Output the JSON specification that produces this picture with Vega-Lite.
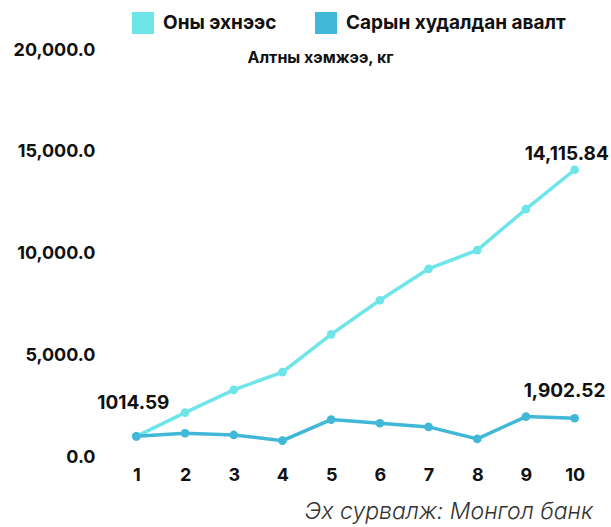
{
  "$schema": "https://vega.github.io/schema/vega-lite/v6.json",
  "autosize": {"type": "none"},
  "width": 487,
  "height": 407,
  "padding": {"left": 112, "top": 50, "right": 12, "bottom": 70},
  "background": "white",
  "config": {
    "view": {"stroke": null},
    "font": "Inter"
  },
  "title": {
    "text": "Эх сурвалж: Монгол банк",
    "orient": "bottom",
    "anchor": "end",
    "frame": "group",
    "fontSize": 23,
    "fontStyle": "italic",
    "fontWeight": 300,
    "color": "#333333",
    "offset": 17,
    "dx": -6
  },
  "data": {
    "values": [
      {"month": 1, "series": "Оны эхнээс", "value": 1014.59},
      {"month": 2, "series": "Оны эхнээс", "value": 2182},
      {"month": 3, "series": "Оны эхнээс", "value": 3300},
      {"month": 4, "series": "Оны эхнээс", "value": 4172},
      {"month": 5, "series": "Оны эхнээс", "value": 6025},
      {"month": 6, "series": "Оны эхнээс", "value": 7700},
      {"month": 7, "series": "Оны эхнээс", "value": 9246},
      {"month": 8, "series": "Оны эхнээс", "value": 10163},
      {"month": 9, "series": "Оны эхнээс", "value": 12182},
      {"month": 10, "series": "Оны эхнээс", "value": 14115.84},
      {"month": 1, "series": "Сарын худалдан авалт", "value": 1014.59},
      {"month": 2, "series": "Сарын худалдан авалт", "value": 1167},
      {"month": 3, "series": "Сарын худалдан авалт", "value": 1084},
      {"month": 4, "series": "Сарын худалдан авалт", "value": 803},
      {"month": 5, "series": "Сарын худалдан авалт", "value": 1838},
      {"month": 6, "series": "Сарын худалдан авалт", "value": 1660},
      {"month": 7, "series": "Сарын худалдан авалт", "value": 1478},
      {"month": 8, "series": "Сарын худалдан авалт", "value": 887},
      {"month": 9, "series": "Сарын худалдан авалт", "value": 1985},
      {"month": 10, "series": "Сарын худалдан авалт", "value": 1902.52}
    ]
  },
  "encoding": {
    "x": {
      "field": "month",
      "type": "quantitative",
      "scale": {"domain": [0.5, 10.5], "nice": false, "zero": false},
      "axis": {
        "values": [1, 2, 3, 4, 5, 6, 7, 8, 9, 10],
        "format": "d",
        "title": null,
        "domain": false,
        "ticks": false,
        "grid": false,
        "labelFontSize": 18,
        "labelFontWeight": "bold",
        "labelColor": "#111111",
        "labelPadding": 9
      }
    },
    "y": {
      "field": "value",
      "type": "quantitative",
      "scale": {"domain": [0, 20000], "nice": false},
      "axis": {
        "values": [0, 5000, 10000, 15000, 20000],
        "format": ",.1f",
        "title": "Алтны хэмжээ, кг",
        "titleAngle": 0,
        "titleX": 208,
        "titleY": 7,
        "titleAlign": "center",
        "titleBaseline": "middle",
        "titleFontSize": 16,
        "titleFontWeight": "bold",
        "titleColor": "#111111",
        "domain": false,
        "ticks": false,
        "grid": false,
        "labelFontSize": 18,
        "labelFontWeight": "bold",
        "labelColor": "#111111",
        "labelPadding": 17
      }
    }
  },
  "layer": [
    {
      "mark": {"type": "line", "strokeWidth": 3.5, "point": {"size": 75, "filled": true}},
      "encoding": {
        "color": {
          "field": "series",
          "type": "nominal",
          "scale": {"domain": ["Оны эхнээс", "Сарын худалдан авалт"], "range": ["#6ee5e9", "#41b8d7"]},
          "legend": {
            "orient": "none",
            "legendX": 20,
            "legendY": -38,
            "direction": "horizontal",
            "title": null,
            "symbolType": "square",
            "symbolSize": 484,
            "symbolStrokeWidth": 0,
            "labelFontSize": 19,
            "labelFontWeight": "bold",
            "labelColor": "#111111",
            "labelLimit": 0,
            "labelOffset": 9,
            "columnPadding": 38
          }
        }
      }
    },
    {
      "transform": [{"filter": "datum.series == 'Оны эхнээс' && datum.month == 1"}],
      "mark": {"type": "text", "align": "left", "baseline": "middle", "dx": -39, "dy": -33, "fontSize": 19, "fontWeight": "bold", "color": "#111111"},
      "encoding": {"text": {"field": "value", "type": "quantitative", "format": ".2f"}}
    },
    {
      "transform": [{"filter": "datum.series == 'Оны эхнээс' && datum.month == 10"}],
      "mark": {"type": "text", "align": "left", "baseline": "middle", "dx": -50, "dy": -16, "fontSize": 19, "fontWeight": "bold", "color": "#111111"},
      "encoding": {"text": {"field": "value", "type": "quantitative", "format": ",.2f"}}
    },
    {
      "transform": [{"filter": "datum.series == 'Сарын худалдан авалт' && datum.month == 10"}],
      "mark": {"type": "text", "align": "left", "baseline": "middle", "dx": -51, "dy": -27, "fontSize": 19, "fontWeight": "bold", "color": "#111111"},
      "encoding": {"text": {"field": "value", "type": "quantitative", "format": ",.2f"}}
    }
  ]
}
